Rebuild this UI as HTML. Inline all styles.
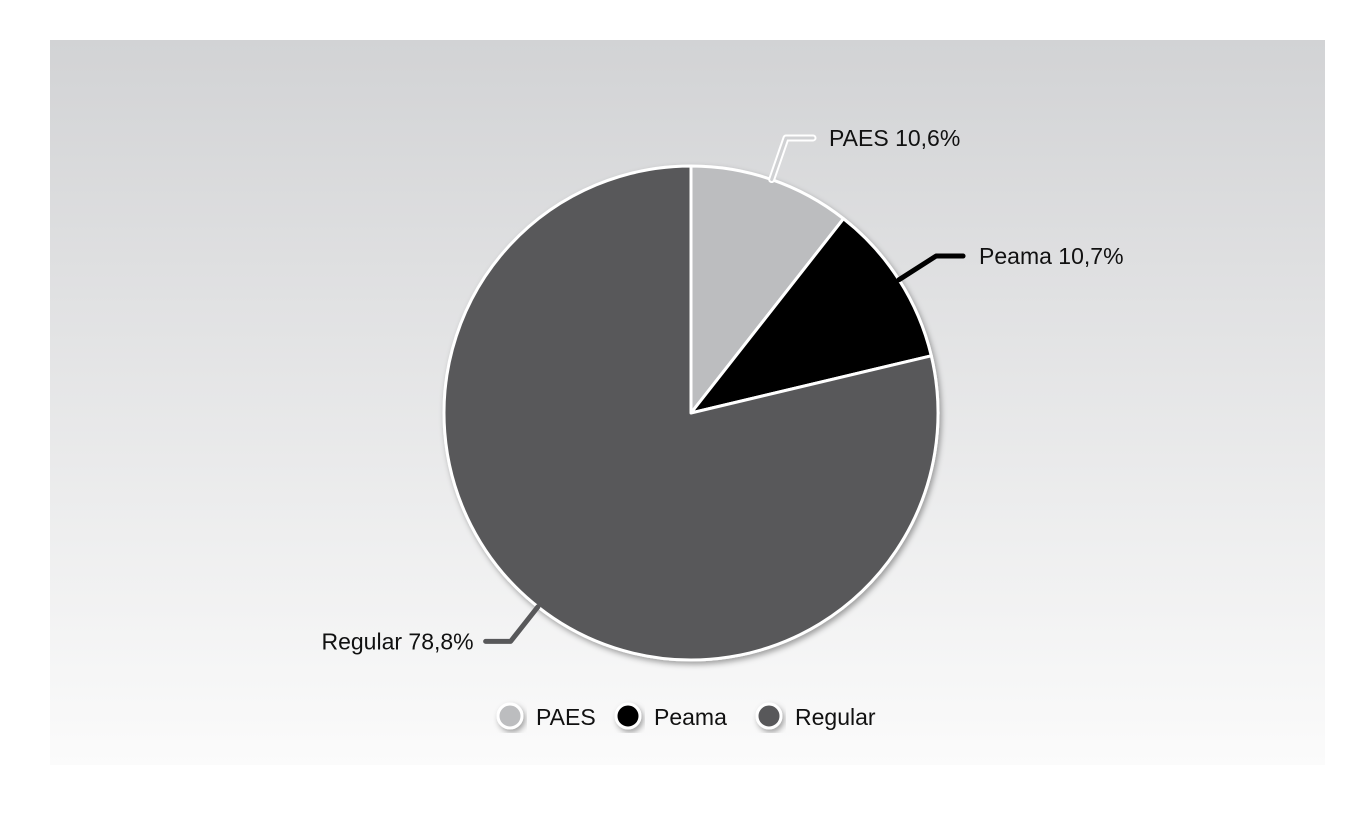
<!DOCTYPE html>
<html><head><meta charset="utf-8"><style>
body{margin:0;background:#fff;}
svg{display:block;font-family:"Liberation Sans",sans-serif;}
</style></head><body>
<svg width="1365" height="822">
<defs>
<linearGradient id="bg" x1="0" y1="0" x2="0" y2="1"><stop offset="0" stop-color="#d2d3d5"/><stop offset="1" stop-color="#fbfbfb"/></linearGradient>
<filter id="sh" x="-20%" y="-20%" width="140%" height="140%"><feDropShadow dx="2" dy="3" stdDeviation="3" flood-color="#000" flood-opacity="0.35"/></filter>
</defs>
<rect x="50" y="40" width="1275" height="725" fill="url(#bg)"/>
<g id="pie" filter="url(#sh)"></g>
<g id="labels"></g>
<g id="legend"></g>
</svg>
<script>
const categories=["PAES","Peama","Regular"];
const values=[10.6,10.7,78.8];
const valueLabels=["10,6%","10,7%","78,8%"];
const colors=["#bcbdbf","#000000","#58585a"];
const cx=691,cy=413,R=247;
const NS="http://www.w3.org/2000/svg";
const pie=document.getElementById('pie'),lab=document.getElementById('labels'),leg=document.getElementById('legend');
function pt(a,r){return [cx+r*Math.sin(a),cy-r*Math.cos(a)];}
const total=values.reduce((a,b)=>a+b,0);
let a0=0;
const mids=[];
values.forEach((v,i)=>{
  const a1=a0+v/total*2*Math.PI;
  const p0=pt(a0,R),p1=pt(a1,R);
  const p=document.createElementNS(NS,'path');
  p.setAttribute('d',`M${cx},${cy}L${p0[0]},${p0[1]}A${R},${R} 0 ${a1-a0>Math.PI?1:0} 1 ${p1[0]},${p1[1]}Z`);
  p.setAttribute('fill',colors[i]);p.setAttribute('stroke','#fff');p.setAttribute('stroke-width','3');
  p.setAttribute('stroke-linejoin','round');
  
  
  pie.appendChild(p);
  mids.push((a0+a1)/2);
  a0=a1;
});
mids.forEach((m,i)=>{
  const e=pt(m,R),b=pt(m,R+44);
  const right=Math.sin(m)>=0;
  const hx=b[0]+(right?27:-25);
  const col=colors[i];
  const pts=`${e[0]},${e[1]} ${b[0]},${b[1]} ${hx},${b[1]}`;
  if(i===0){
    const o=document.createElementNS(NS,'polyline');
    o.setAttribute('points',pts);o.setAttribute('fill','none');o.setAttribute('stroke','#fff');
    o.setAttribute('stroke-width','7');o.setAttribute('stroke-linecap','round');o.setAttribute('stroke-linejoin','round');
    
    
    lab.appendChild(o);
  }
  const l=document.createElementNS(NS,'polyline');
  l.setAttribute('points',pts);
  l.setAttribute('fill','none');l.setAttribute('stroke',i===0?'#d0d1d3':col);l.setAttribute('stroke-width',i===0?'3':'5');
  l.setAttribute('stroke-linecap','round');l.setAttribute('stroke-linejoin','round');
  
  
  lab.appendChild(l);
  const t=document.createElementNS(NS,'text');
  t.setAttribute('x',right?hx+16:hx-12);t.setAttribute('y',b[1]+8);
  t.setAttribute('text-anchor',right?'start':'end');t.setAttribute('font-size','23');t.setAttribute('fill','#111');
  t.textContent=categories[i]+' '+valueLabels[i];
  
  
  lab.appendChild(t);
});
const lx=[510,628,769];
categories.forEach((c,i)=>{
  const g=document.createElementNS(NS,'g');
  
  
  const ci=document.createElementNS(NS,'circle');
  ci.setAttribute('cx',lx[i]);ci.setAttribute('cy',716);ci.setAttribute('r',12);
  ci.setAttribute('fill',colors[i]);ci.setAttribute('stroke','#fff');ci.setAttribute('stroke-width','3');
  ci.setAttribute('filter','url(#sh)');
  
  
  const t=document.createElementNS(NS,'text');
  t.setAttribute('x',lx[i]+26);t.setAttribute('y',725);t.setAttribute('font-size','23');t.setAttribute('fill','#111');
  t.textContent=c;
  
  
  g.appendChild(ci);g.appendChild(t);leg.appendChild(g);
});
</script>
</body></html>
